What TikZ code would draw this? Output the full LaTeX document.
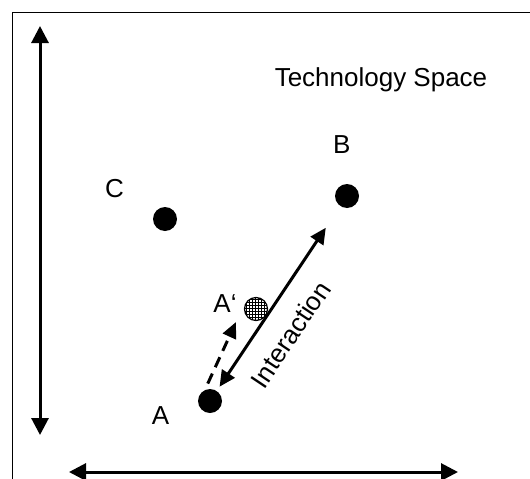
\documentclass[tikz,border=0pt]{standalone}
\usepackage{fontspec}
\setmainfont{Liberation Sans}
\usetikzlibrary{arrows.meta,patterns}
\begin{document}
\begin{tikzpicture}[x=1pt,y=-1pt,
  lbl/.style={font=\fontsize{26pt}{30pt}\selectfont, inner sep=0pt, anchor=base},
  dot/.style={circle, fill=black, minimum size=24pt, inner sep=0pt},
  hatchdot/.style={circle, draw=black, line width=1.2pt, pattern=grid, minimum size=23pt, inner sep=0pt},
  bigarrow/.style={line width=3pt, {Triangle[length=17pt,width=17pt]}-{Triangle[length=17pt,width=17pt]}},
  midarrow/.style={line width=3pt, {Triangle[length=16pt,width=15pt]}-{Triangle[length=16pt,width=15pt]}},
  dasharrow/.style={line width=3pt, dash pattern=on 11pt off 7pt, -{Triangle[length=16pt,width=14pt]}}
]
\useasboundingbox (0,0) rectangle (530,479);
\clip (0,0) rectangle (530,479);
% frame
\draw[line width=1.3pt] (12.7,12.5) rectangle (560,510);
% axes
\coordinate (vtop) at (40,26);
\coordinate (vbot) at (40,435);
\coordinate (hl) at (69,472);
\coordinate (hr) at (458,472);
\draw[bigarrow] (vtop) -- (vbot);
\draw[bigarrow] (hl) -- (hr);
% title
\node[lbl] (title) at (381,86) {Technology Space};
% points
\node[dot] (A) at (210,401) {};
\node[dot] (B) at (347,196) {};
\node[dot] (C) at (165,219) {};
\node[hatchdot] (Ap) at (256,309) {};
% labels
\node[lbl] (la) at (160.5,424) {A};
\node[lbl] (lb) at (341.7,153) {B};
\node[lbl] (lc) at (114.5,197.5) {C};
\node[lbl] (lap) at (225,312) {A‘};
% interaction
\draw[midarrow, shorten <=5pt, shorten >=26pt] (A) -- (B)
  node[pos=0.396, sloped, yshift=-30pt, font=\fontsize{26pt}{30pt}\selectfont, inner sep=0pt] (inter) {Interaction};
% dashed arrow
\coordinate (dtip) at (236,322);
\draw[dasharrow, shorten <=7pt] (A.115) -- (dtip);
\end{tikzpicture}
\end{document}
